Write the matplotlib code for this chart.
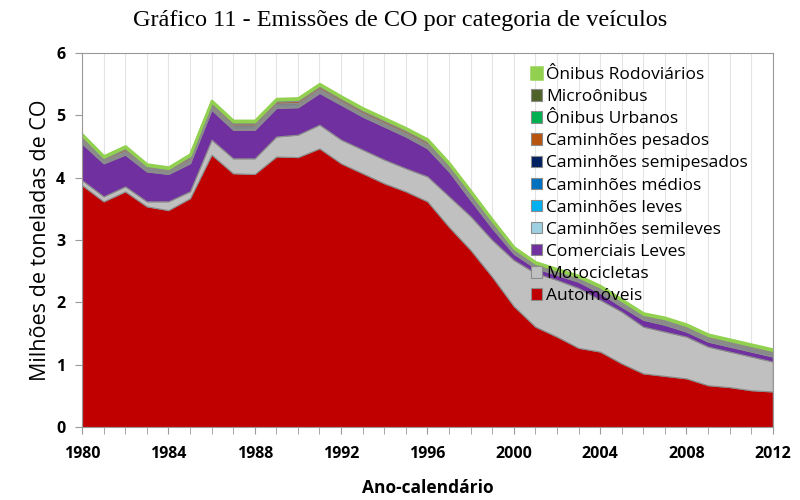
import matplotlib
matplotlib.use("Agg")
import matplotlib.pyplot as plt
import numpy as np

anos = list(range(1980, 2013))

# milhoes de toneladas de CO
automoveis = [3.88, 3.62, 3.78, 3.54, 3.48, 3.67, 4.37, 4.07, 4.06, 4.34, 4.33,
              4.47, 4.23, 4.07, 3.91, 3.78, 3.62, 3.21, 2.84, 2.41, 1.94, 1.61,
              1.45, 1.27, 1.21, 1.02, 0.86, 0.82, 0.78, 0.67, 0.64, 0.59, 0.57]
motocicletas = [0.08, 0.08, 0.08, 0.08, 0.14, 0.11, 0.24, 0.24, 0.25, 0.32, 0.36,
                0.38, 0.38, 0.38, 0.38, 0.37, 0.40, 0.49, 0.54, 0.59, 0.74, 0.86,
                0.91, 0.96, 0.83, 0.83, 0.75, 0.71, 0.67, 0.62, 0.57, 0.54, 0.48]
comerciais_leves = [0.59, 0.53, 0.51, 0.48, 0.44, 0.45, 0.48, 0.46, 0.46, 0.46, 0.44,
                    0.51, 0.56, 0.53, 0.53, 0.51, 0.45, 0.40, 0.26, 0.19, 0.10, 0.08,
                    0.08, 0.10, 0.11, 0.08, 0.11, 0.11, 0.08, 0.08, 0.08, 0.08, 0.08]
cam_semileves = [0.01, 0.01, 0.01, 0.01, 0.01, 0.01, 0.01, 0.01, 0.01, 0.01, 0.01,
                 0.01, 0.01, 0.01, 0.01, 0.01, 0.01, 0.01, 0.01, 0.01, 0.01, 0.01,
                 0.01, 0.01, 0.01, 0.01, 0.01, 0.01, 0.01, 0.01, 0.01, 0.01, 0.01]
cam_leves = [0.02, 0.01, 0.02, 0.01, 0.01, 0.02, 0.02, 0.02, 0.02, 0.02, 0.02,
             0.02, 0.02, 0.02, 0.02, 0.02, 0.02, 0.02, 0.02, 0.02, 0.01, 0.01,
             0.01, 0.01, 0.01, 0.01, 0.01, 0.01, 0.01, 0.01, 0.01, 0.01, 0.01]
cam_medios = [0.02, 0.02, 0.02, 0.02, 0.01, 0.02, 0.02, 0.02, 0.02, 0.02, 0.02,
              0.02, 0.02, 0.02, 0.02, 0.02, 0.02, 0.02, 0.02, 0.02, 0.01, 0.01,
              0.01, 0.01, 0.02, 0.02, 0.01, 0.02, 0.02, 0.02, 0.02, 0.02, 0.02]
cam_semipesados = [0.02, 0.01, 0.01, 0.01, 0.01, 0.02, 0.02, 0.02, 0.02, 0.02, 0.02,
                   0.02, 0.01, 0.01, 0.01, 0.01, 0.02, 0.01, 0.02, 0.01, 0.01, 0.01,
                   0.01, 0.01, 0.01, 0.01, 0.01, 0.01, 0.01, 0.01, 0.01, 0.01, 0.01]
cam_pesados = [0.03, 0.02, 0.03, 0.02, 0.02, 0.03, 0.03, 0.03, 0.03, 0.03, 0.03,
               0.03, 0.03, 0.03, 0.03, 0.03, 0.03, 0.03, 0.03, 0.03, 0.02, 0.02,
               0.02, 0.02, 0.02, 0.02, 0.02, 0.02, 0.02, 0.02, 0.02, 0.02, 0.02]
onibus_urbanos = [0.02, 0.02, 0.02, 0.02, 0.02, 0.02, 0.02, 0.02, 0.02, 0.02, 0.02,
                  0.02, 0.02, 0.02, 0.02, 0.02, 0.02, 0.02, 0.02, 0.02, 0.02, 0.01,
                  0.01, 0.01, 0.02, 0.02, 0.02, 0.02, 0.02, 0.02, 0.02, 0.02, 0.02]
microonibus = [0.01, 0.01, 0.01, 0.01, 0.01, 0.01, 0.01, 0.01, 0.01, 0.01, 0.01,
               0.01, 0.01, 0.01, 0.01, 0.01, 0.01, 0.01, 0.01, 0.01, 0.01, 0.01,
               0.01, 0.01, 0.01, 0.01, 0.01, 0.01, 0.01, 0.01, 0.01, 0.01, 0.01]
onibus_rodoviarios = [0.02, 0.02, 0.02, 0.02, 0.02, 0.02, 0.02, 0.02, 0.02, 0.02, 0.02,
                      0.02, 0.02, 0.02, 0.02, 0.02, 0.02, 0.02, 0.02, 0.02, 0.02, 0.02,
                      0.02, 0.02, 0.02, 0.02, 0.02, 0.02, 0.02, 0.02, 0.02, 0.02, 0.02]

series = [automoveis, motocicletas, comerciais_leves, cam_semileves, cam_leves,
          cam_medios, cam_semipesados, cam_pesados, onibus_urbanos, microonibus,
          onibus_rodoviarios]
nomes = ["Automóveis", "Motocicletas", "Comerciais Leves", "Caminhões semileves",
         "Caminhões leves", "Caminhões médios", "Caminhões semipesados",
         "Caminhões pesados", "Ônibus Urbanos", "Microônibus", "Ônibus Rodoviários"]
cores = ["#C00000", "#C0C0C0", "#7030A0", "#9DD0E0", "#00B0F0", "#0070C0",
         "#002060", "#B85410", "#00B050", "#4F6228", "#92D050"]

fig = plt.figure(figsize=(8, 5), dpi=100)
ax = fig.add_axes([0.1025, 0.146, 0.8635, 0.748])

polys = ax.stackplot(anos, np.array(series), colors=cores, labels=nomes,
                     edgecolor="#8c8c8c", linewidth=0.8)
# borda verde clara no topo
polys[-1].set_edgecolor("#92D050")
polys[-1].set_linewidth(1.8)

ax.set_xlim(1980, 2012)
ax.set_ylim(0, 6)
ax.set_xticks(range(1980, 2013, 4))
ax.set_xticks(anos, minor=True)
ax.set_yticks(range(0, 7))
ax.grid(True, axis="x", which="both", color="#e4e4e4", linewidth=0.8)
ax.set_axisbelow(True)
for s in ax.spines.values():
    s.set_color("#999999")
ax.tick_params(axis="both", which="both", direction="out", color="#999999")
ax.tick_params(axis="x", which="major", length=5, labelsize=11.5, pad=9)
ax.tick_params(axis="x", which="minor", length=5)
ax.tick_params(axis="y", length=5, labelsize=11.5, pad=7)
for lab in ax.get_xticklabels() + ax.get_yticklabels():
    lab.set_fontfamily("Open Sans")
    lab.set_fontweight("bold")

ax.set_ylabel("Milhões de toneladas de CO", fontsize=15.5, fontfamily="Open Sans",
              labelpad=4)
ax.set_xlabel("Ano-calendário", fontsize=12.5, fontfamily="Open Sans",
              fontweight="bold", labelpad=12)
fig.suptitle("Gráfico 11 - Emissões de CO por categoria de veículos", x=0.5, y=0.98,
             fontsize=17.5, fontfamily="Liberation Serif")

h, l = ax.get_legend_handles_labels()
leg = ax.legend(h[::-1], l[::-1], loc="upper left", bbox_to_anchor=(0.635, 0.99),
                frameon=False, handlelength=0.65, handleheight=0.65,
                handletextpad=0.2, labelspacing=0.35, borderaxespad=0.2,
                prop={"family": "Open Sans", "size": 12.5})

fig.savefig("out.png", dpi=100)
